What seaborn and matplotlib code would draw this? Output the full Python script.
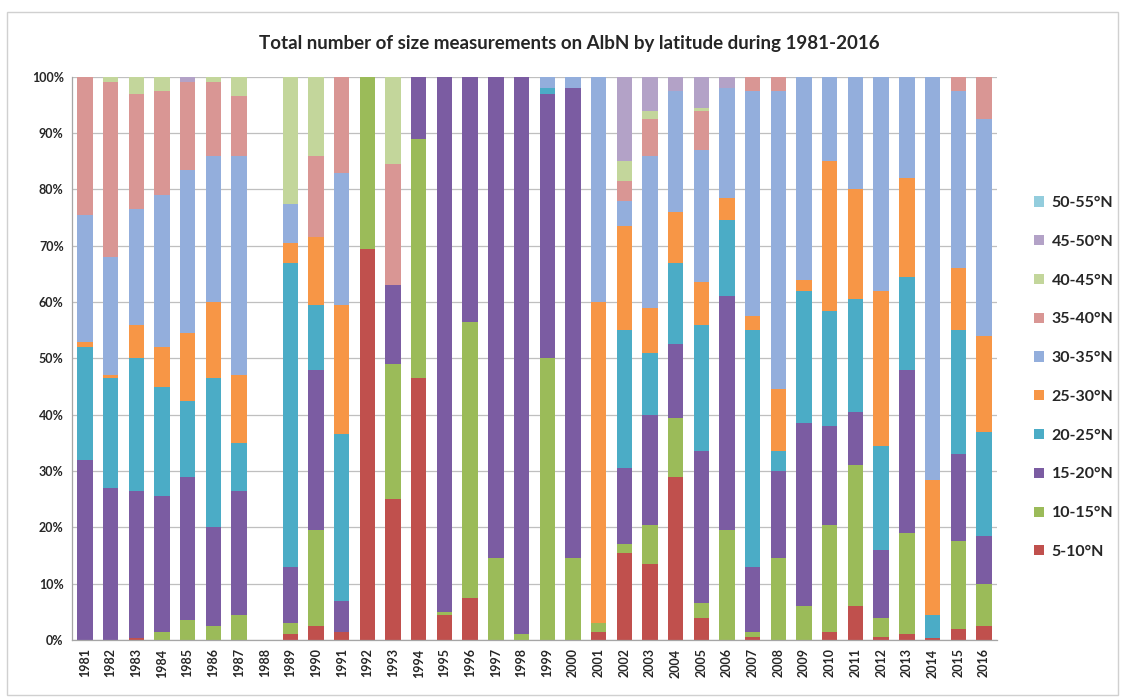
import numpy as np
import pandas as pd
import seaborn as sns
from matplotlib import pyplot as plt
from matplotlib.patches import Rectangle

years = list(range(1981, 2017))
bands = ["50-55°N", "45-50°N", "40-45°N", "35-40°N", "30-35°N",
         "25-30°N", "20-25°N", "15-20°N", "10-15°N", "5-10°N"]

# share (%) of measurements per year, 1981..2016
lat_05_10 = [0, 0, 0.3, 0, 0, 0, 0, 0, 1, 2.5, 1.5, 69.5, 25, 46.5, 4.5, 7.5, 0, 0, 0, 0,
             1.5, 15.5, 13.5, 29, 4, 0, 0.5, 0, 0, 1.5, 6, 0.5, 1, 0.3, 2, 2.5]
lat_10_15 = [0, 0, 0, 1.5, 3.5, 2.5, 4.5, 0, 2, 17, 0, 30.5, 24, 42.5, 0.5, 49, 14.5, 1, 50, 14.5,
             1.5, 1.5, 7, 10.5, 2.5, 19.5, 1, 14.5, 6, 19, 25, 3.5, 18, 0, 15.5, 7.5]
lat_15_20 = [32, 27, 26.2, 24, 25.5, 17.5, 22, 0, 10, 28.5, 5.5, 0, 14, 11, 95, 43.5, 85.5, 99, 47, 83.5,
             0, 13.5, 19.5, 13, 27, 41.5, 11.5, 15.5, 32.5, 17.5, 9.5, 12, 29, 0, 15.5, 8.5]
lat_20_25 = [20, 19.5, 23.5, 19.5, 13.5, 26.5, 8.5, 0, 54, 11.5, 29.5, 0, 0, 0, 0, 0, 0, 0, 1, 0,
             0, 24.5, 11, 14.5, 22.5, 13.5, 42, 3.5, 23.5, 20.5, 20, 18.5, 16.5, 4.2, 22, 18.5]
lat_25_30 = [1, 0.5, 6, 7, 12, 13.5, 12, 0, 3.5, 12, 23, 0, 0, 0, 0, 0, 0, 0, 0, 0,
             57, 18.5, 8, 9, 7.5, 4, 2.5, 11, 2, 26.5, 19.5, 27.5, 17.5, 24, 11, 17]
lat_30_35 = [22.5, 21, 20.5, 27, 29, 26, 39, 0, 7, 0, 23.5, 0, 0, 0, 0, 0, 0, 0, 2, 2,
             40, 4.5, 27, 21.5, 23.5, 19.5, 40, 53, 36, 15, 20, 38, 18, 71.5, 31.5, 38.5]
lat_35_40 = [24.5, 31, 20.5, 18.5, 15.5, 13, 10.5, 0, 0, 14.5, 17, 0, 21.5, 0, 0, 0, 0, 0, 0, 0,
             0, 3.5, 6.5, 0, 7, 0, 2.5, 2.5, 0, 0, 0, 0, 0, 0, 2.5, 7.5]
lat_40_45 = [0, 1, 3, 2.5, 0, 1, 3.5, 0, 22.5, 14, 0, 0, 15.5, 0, 0, 0, 0, 0, 0, 0,
             0, 3.5, 1.5, 0, 0.5, 0, 0, 0, 0, 0, 0, 0, 0, 0, 0, 0]
lat_45_50 = [0, 0, 0, 0, 1, 0, 0, 0, 0, 0, 0, 0, 0, 0, 0, 0, 0, 0, 0, 0,
             0, 15, 6, 2.5, 5.5, 2, 0, 0, 0, 0, 0, 0, 0, 0, 0, 0]
lat_50_55 = [0] * 36

series = {
    "50-55°N": lat_50_55, "45-50°N": lat_45_50, "40-45°N": lat_40_45,
    "35-40°N": lat_35_40, "30-35°N": lat_30_35, "25-30°N": lat_25_30,
    "20-25°N": lat_20_25, "15-20°N": lat_15_20, "10-15°N": lat_10_15,
    "5-10°N": lat_05_10,
}
df = pd.DataFrame([(y, b, series[b][i]) for b in bands for i, y in enumerate(years)],
                  columns=["year", "band", "pct"])

colors = {
    "5-10°N": "#C0504D", "10-15°N": "#9BBB59", "15-20°N": "#7B5CA2",
    "20-25°N": "#4BACC6", "25-30°N": "#F79646", "30-35°N": "#93AEDC",
    "35-40°N": "#D99694", "40-45°N": "#C3D69B", "45-50°N": "#B3A2C7",
    "50-55°N": "#93CDDD",
}

sns.set_theme(style="whitegrid")
plt.rcParams['font.family'] = ['Lato', 'DejaVu Sans']

fig = plt.figure(figsize=(11.25, 6.98), dpi=100)
ax = fig.add_axes([0.064, 0.083, 0.822, 0.807])

sns.histplot(df, x="year", hue="band", weights="pct", hue_order=bands, palette=colors,
             multiple="stack", discrete=True, shrink=0.6, alpha=1, edgecolor="none",
             linewidth=0, ax=ax)

ax.set_xlim(1980.5, 2016.5)
ax.set_ylim(0, 100)
ax.set_yticks(np.arange(0, 101, 10))
ax.set_yticklabels([f"{v}%" for v in range(0, 101, 10)], fontsize=9, fontweight="bold")
ax.set_xticks(years)
ax.set_xticklabels([str(y) for y in years], rotation=90, fontsize=9, fontweight="bold")
ax.tick_params(axis="both", length=0, pad=6)
ax.set_xlabel("")
ax.set_ylabel("")
ax.grid(axis="x", visible=False)
ax.grid(axis="y", color="#BFBFBF", linewidth=0.9)
ax.set_axisbelow(True)
for s in ["top", "right"]:
    ax.spines[s].set_visible(False)
for s in ["left", "bottom"]:
    ax.spines[s].set_color("#A6A6A6")
    ax.spines[s].set_linewidth(0.9)

sns.move_legend(ax, loc="center left", bbox_to_anchor=(1.025, 0.466), frameon=False, title=None,
                handlelength=0.6, handleheight=0.6, labelspacing=1.55, handletextpad=0.5,
                prop={"weight": "bold", "size": 11.5})

fig.text(0.506, 0.938, "Total number of size measurements on AlbN by latitude during 1981-2016",
         ha="center", va="center", fontsize=13.5, fontweight="bold")

fig.patches.append(Rectangle((0.006, 0.004), 0.988, 0.979, transform=fig.transFigure,
                             fill=False, edgecolor="#D0D0D0", linewidth=1))

plt.savefig("out.png", dpi=100)
